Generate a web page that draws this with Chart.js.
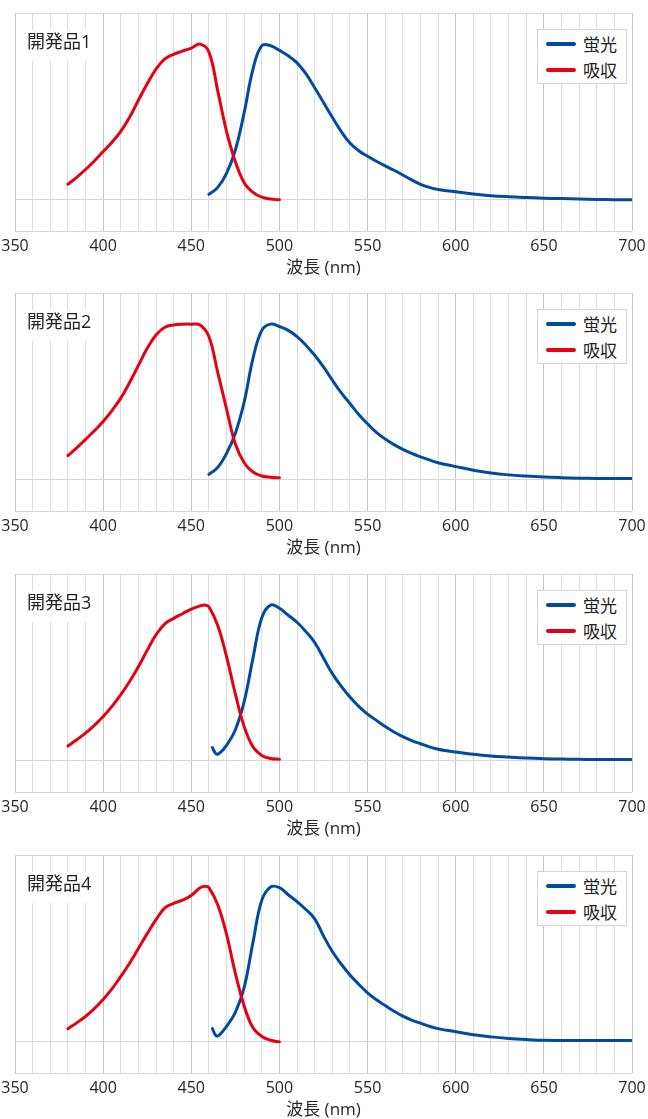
<!DOCTYPE html>
<html>
<head>
<meta charset="utf-8">
<script src="https://cdn.jsdelivr.net/npm/chart.js@4.4.1/dist/chart.umd.min.js"></script>
<style>
  html, body { margin:0; padding:0; background:#fff; }
  body { width:648px; height:1119px; position:relative; overflow:hidden;
         font-family:'Open Sans','Noto Sans CJK JP',sans-serif; color:#222; }
  .panel { position:absolute; left:0; width:648px; height:280px; }
  .panel canvas { position:absolute; left:0; top:0; }
  .tag { position:absolute; left:21px; top:30px; width:74px; height:31px; background:#fff;
         font-size:18px; line-height:23px; padding-left:6px; box-sizing:border-box; white-space:nowrap; }
  .legend { position:absolute; left:537px; top:29px; width:90px; height:55px; background:#fff;
            border:1px solid #d4d4d4; box-sizing:border-box; }
  .legend .row { position:absolute; left:0; width:100%; height:24px; }
  .legend .sw { position:absolute; left:8px; top:10px; width:30px; height:4px; border-radius:2px; }
  .legend .tx { position:absolute; left:45px; top:1px; font-size:17px; line-height:24px; white-space:nowrap; }
</style>
</head>
<body>
<script>
// ---- data ----
const panelLabels = ['開発品1', '開発品2', '開発品3', '開発品4'];
const seriesNames = ['蛍光', '吸収'];
const xTickLabels = [350, 400, 450, 500, 550, 600, 650, 700];
const xAxisTitle = '波長 (nm)';

const absNm1 = [380,385,390,395,400,405,410,415,420,425,430,435,440,445,450,455,460,465,470,475,480,485,490,495,500];
const absVal1 = [0.10,0.145,0.195,0.25,0.31,0.37,0.44,0.53,0.64,0.745,0.84,0.905,0.935,0.955,0.975,1.0,0.95,0.70,0.44,0.245,0.11,0.048,0.017,0.005,0.0];
const fluNm1 = [460,465,470,475,480,485,490,495,500,505,510,515,520,525,530,535,540,545,550,555,560,565,570,575,580,585,590,595,600,610,620,630,640,650,660,670,680,690,700];
const fluVal1 = [0.035,0.08,0.17,0.32,0.56,0.84,0.99,0.99,0.96,0.925,0.88,0.81,0.72,0.625,0.53,0.44,0.365,0.315,0.28,0.248,0.218,0.19,0.16,0.128,0.10,0.08,0.066,0.058,0.052,0.038,0.027,0.02,0.015,0.011,0.008,0.005,0.003,0.001,0.0];

const absNm2 = [380,385,390,395,400,405,410,415,420,425,430,435,440,445,450,455,460,465,470,475,480,485,490,495,500];
const absVal2 = [0.155,0.205,0.26,0.315,0.375,0.445,0.525,0.625,0.735,0.845,0.93,0.98,0.995,1.0,1.0,0.995,0.92,0.69,0.455,0.23,0.11,0.05,0.025,0.017,0.013];
const fluNm2 = [460,465,470,475,480,485,490,495,500,505,510,515,520,525,530,535,540,545,550,555,560,565,570,575,580,585,590,595,600,610,620,630,640,650,660,670,680,690,700];
const fluVal2 = [0.035,0.08,0.17,0.30,0.50,0.78,0.96,1.0,0.985,0.96,0.92,0.865,0.80,0.725,0.64,0.56,0.49,0.42,0.36,0.305,0.262,0.226,0.196,0.17,0.148,0.128,0.11,0.097,0.085,0.062,0.044,0.032,0.024,0.018,0.014,0.011,0.009,0.008,0.008];

const absNm3 = [380,385,390,395,400,405,410,415,420,425,430,435,440,445,450,455,458,460,465,470,475,480,485,490,495,500];
const absVal3 = [0.096,0.135,0.178,0.228,0.285,0.35,0.425,0.51,0.605,0.71,0.81,0.88,0.915,0.945,0.975,0.995,1.0,0.99,0.87,0.67,0.43,0.22,0.09,0.035,0.015,0.01];
const fluNm3 = [462,464,466,470,475,480,485,490,495,500,505,510,515,520,525,530,535,540,545,550,555,560,565,570,575,580,585,590,595,600,610,620,630,640,650,660,670,680,690,700];
const fluVal3 = [0.085,0.045,0.05,0.10,0.20,0.38,0.66,0.92,1.0,0.98,0.935,0.89,0.83,0.76,0.66,0.56,0.48,0.41,0.35,0.30,0.26,0.22,0.185,0.155,0.13,0.11,0.09,0.075,0.065,0.057,0.042,0.031,0.024,0.018,0.014,0.012,0.01,0.009,0.008,0.008];

const absNm4 = [380,385,390,395,400,405,410,415,420,425,430,435,440,445,450,455,458,460,465,470,475,480,485,490,495,500];
const absVal4 = [0.084,0.122,0.163,0.213,0.272,0.34,0.42,0.505,0.60,0.695,0.785,0.86,0.89,0.91,0.94,0.99,1.0,0.99,0.88,0.69,0.44,0.23,0.09,0.035,0.01,0.0];
const fluNm4 = [462,464,466,470,475,480,485,490,495,500,505,510,515,520,525,530,535,540,545,550,555,560,565,570,575,580,585,590,595,600,610,620,630,640,650,660,670,680,690,700];
const fluVal4 = [0.085,0.04,0.045,0.10,0.19,0.35,0.64,0.91,0.995,0.99,0.945,0.90,0.85,0.79,0.68,0.58,0.50,0.43,0.37,0.315,0.27,0.233,0.197,0.165,0.14,0.12,0.10,0.085,0.074,0.065,0.045,0.032,0.022,0.015,0.01,0.009,0.008,0.008,0.008,0.008];

const xMin = 350, xMax = 700, xGridStep = 10;
const yMin = -0.2, yMax = 1.2;
const yGridValues = [-0.2, 0, 1.2];

const panels = [
  { abs: [absNm1, absVal1], flu: [fluNm1, fluVal1] },
  { abs: [absNm2, absVal2], flu: [fluNm2, fluVal2] },
  { abs: [absNm3, absVal3], flu: [fluNm3, fluVal3] },
  { abs: [absNm4, absVal4], flu: [fluNm4, fluVal4] }
];
const panelTops = [0, 280, 561, 842];

const BLUE = '#004aa0';
const RED = '#e60012';
const FONT = "'Open Sans','Noto Sans CJK JP',sans-serif";

const gridNm = [];
for (let v = xMin; v <= xMax; v += xGridStep) gridNm.push(v);

function pts(nm, val) { return nm.map((x, i) => ({ x: x, y: val[i] })); }

panels.forEach((p, i) => {
  const div = document.createElement('div');
  div.className = 'panel';
  div.style.top = panelTops[i] + 'px';
  const cv = document.createElement('canvas');
  cv.width = 648; cv.height = 280;
  cv.style.width = '648px'; cv.style.height = '280px';
  div.appendChild(cv);

  const tag = document.createElement('div');
  tag.className = 'tag';
  tag.textContent = panelLabels[i];
  div.appendChild(tag);

  const lg = document.createElement('div');
  lg.className = 'legend';
  [[seriesNames[0], BLUE], [seriesNames[1], RED]].forEach((e, k) => {
    const row = document.createElement('div');
    row.className = 'row';
    row.style.top = (2 + k * 26) + 'px';
    const sw = document.createElement('div'); sw.className = 'sw'; sw.style.background = e[1];
    const tx = document.createElement('div'); tx.className = 'tx'; tx.textContent = e[0];
    row.appendChild(sw); row.appendChild(tx);
    lg.appendChild(row);
  });
  div.appendChild(lg);
  document.body.appendChild(div);

  new Chart(cv.getContext('2d'), {
    type: 'line',
    data: {
      datasets: [
        { label: seriesNames[1], data: pts(p.abs[0], p.abs[1]), borderColor: RED, backgroundColor: RED,
          borderWidth: 3, pointRadius: 0, tension: 0.4, fill: false, borderCapStyle: 'round' },
        { label: seriesNames[0], data: pts(p.flu[0], p.flu[1]), borderColor: BLUE, backgroundColor: BLUE,
          borderWidth: 3, pointRadius: 0, tension: 0.4, fill: false, borderCapStyle: 'round' }
      ]
    },
    options: {
      responsive: false,
      animation: false,
      devicePixelRatio: 1,
      layout: { padding: { left: 15, right: 16, top: 13, bottom: 0 } },
      plugins: { legend: { display: false }, tooltip: { enabled: false } },
      scales: {
        x: {
          type: 'linear', min: xMin, max: xMax,
          afterBuildTicks: s => { s.ticks = gridNm.map(v => ({ value: v })); },
          afterFit: s => { s.height = 49; s.paddingLeft = 0; s.paddingRight = 0; },
          ticks: {
            autoSkip: false, maxRotation: 0, padding: 6, color: '#262626',
            font: { size: 16, family: FONT },
            callback: v => xTickLabels.includes(v) ? String(v) : ''
          },
          grid: {
            drawTicks: false, lineWidth: 1,
            color: ctx => (ctx.tick && xTickLabels.includes(ctx.tick.value)) ? '#c4c4c4' : '#dcdcdc'
          },
          border: { display: false },
          title: {
            display: true, text: xAxisTitle, color: '#262626',
            font: { size: 17, family: FONT }, padding: { top: 0, bottom: 2 }
          }
        },
        y: {
          min: yMin, max: yMax,
          afterBuildTicks: s => { s.ticks = yGridValues.map(v => ({ value: v })); },
          ticks: { display: false },
          grid: { drawTicks: false, color: '#d6d6d6', lineWidth: 1 },
          border: { display: false }
        }
      }
    }
  });
});
</script>
</body>
</html>
